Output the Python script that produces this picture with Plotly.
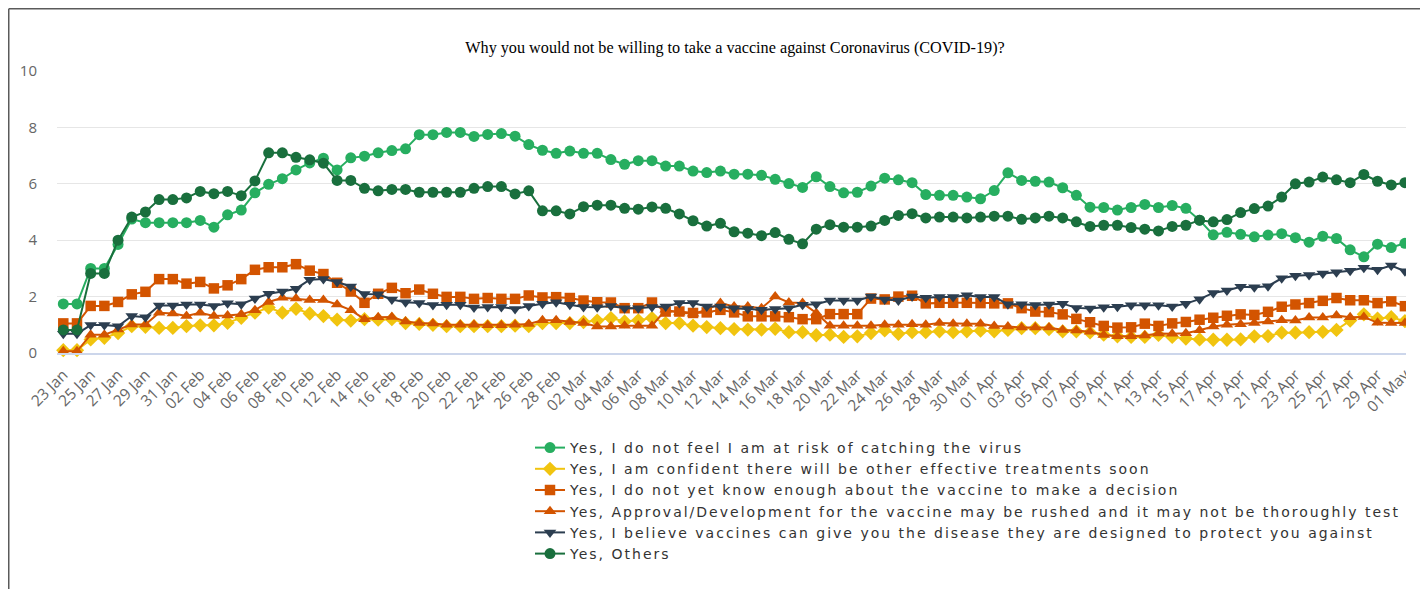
import pandas as pd
import plotly.graph_objects as go

# ---------------- data (daily, 23 Jan 2021 -> 01 May 2021) ----------------
start_date = "2021-01-23"
n_days = 99
dates = pd.date_range(start_date, periods=n_days, freq="D")

not_at_risk = [1.74,1.74,3.0,3.0,3.85,4.75,4.62,4.62,4.62,4.62,
4.7,4.46,4.9,5.07,5.68,5.98,6.18,6.49,6.74,6.91,
6.49,6.92,6.98,7.1,7.18,7.24,7.74,7.74,7.82,7.82,
7.68,7.75,7.78,7.69,7.39,7.19,7.08,7.16,7.08,7.08,
6.86,6.69,6.82,6.82,6.63,6.63,6.45,6.4,6.45,6.34,
6.34,6.3,6.16,6.01,5.87,6.25,5.9,5.68,5.7,5.92,
6.2,6.14,6.04,5.62,5.59,5.59,5.53,5.47,5.76,6.39,
6.12,6.09,6.06,5.86,5.59,5.17,5.16,5.07,5.16,5.27,
5.16,5.23,5.13,4.71,4.19,4.28,4.21,4.12,4.18,4.23,
4.09,3.93,4.14,4.06,3.66,3.41,3.86,3.74,3.89]

confident_treatments = [0.1,0.1,0.48,0.54,0.71,0.95,0.93,0.89,0.89,0.95,
0.98,0.98,1.07,1.25,1.43,1.61,1.43,1.57,1.4,1.31,
1.18,1.15,1.2,1.18,1.2,1.06,1.03,1.0,0.95,0.95,
0.95,0.95,0.95,0.97,0.95,1.06,1.06,1.06,1.1,1.15,
1.24,1.12,1.16,1.24,1.06,1.06,0.97,0.92,0.88,0.85,
0.83,0.83,0.86,0.74,0.74,0.63,0.65,0.57,0.59,0.71,
0.8,0.68,0.74,0.74,0.77,0.74,0.77,0.79,0.77,0.82,
0.88,0.88,0.85,0.77,0.77,0.73,0.65,0.59,0.57,0.57,
0.64,0.57,0.51,0.48,0.47,0.47,0.48,0.59,0.6,0.72,
0.72,0.74,0.75,0.82,1.15,1.37,1.22,1.27,1.13]

not_know_enough = [1.05,1.05,1.67,1.67,1.81,2.08,2.17,2.62,2.62,2.46,
2.52,2.29,2.4,2.62,2.95,3.04,3.04,3.15,2.92,2.8,
2.49,2.18,1.78,2.1,2.31,2.12,2.25,2.1,1.99,1.99,
1.92,1.95,1.92,1.92,2.04,1.97,1.98,1.95,1.86,1.8,
1.79,1.59,1.59,1.79,1.47,1.47,1.42,1.44,1.53,1.44,
1.3,1.3,1.3,1.27,1.2,1.2,1.38,1.38,1.38,1.93,
1.9,2.0,2.03,1.76,1.78,1.78,1.78,1.77,1.76,1.76,
1.59,1.47,1.45,1.37,1.21,1.09,0.96,0.9,0.91,1.04,
0.96,1.05,1.1,1.18,1.25,1.32,1.37,1.35,1.46,1.64,
1.72,1.77,1.85,1.95,1.87,1.87,1.77,1.83,1.66]

rushed = [0.06,0.06,0.65,0.65,0.83,1.01,1.01,1.43,1.4,1.31,
1.43,1.31,1.33,1.37,1.52,1.81,1.96,1.93,1.88,1.88,
1.72,1.52,1.2,1.27,1.28,1.12,1.06,1.05,1.0,1.0,
1.0,0.98,0.98,1.0,1.03,1.16,1.16,1.1,1.06,0.94,
0.94,0.97,0.97,0.97,1.53,1.44,1.39,1.53,1.77,1.65,
1.65,1.59,2.0,1.79,1.77,1.42,0.97,0.97,0.97,0.97,
1.0,1.0,1.02,1.0,1.06,1.04,1.04,1.04,0.96,0.94,
0.9,0.9,0.9,0.82,0.8,0.75,0.64,0.59,0.59,0.62,
0.69,0.68,0.7,0.81,0.94,1.0,1.02,1.06,1.12,1.16,
1.15,1.26,1.26,1.33,1.27,1.28,1.07,1.06,1.06]

give_disease = [0.68,0.68,0.99,0.99,0.95,1.31,1.27,1.68,1.68,1.72,
1.72,1.67,1.76,1.73,1.93,2.1,2.18,2.28,2.6,2.62,
2.52,2.36,2.09,2.08,1.9,1.8,1.77,1.7,1.71,1.71,
1.61,1.63,1.63,1.56,1.67,1.75,1.8,1.71,1.63,1.62,
1.67,1.59,1.59,1.63,1.65,1.77,1.77,1.65,1.65,1.59,
1.56,1.53,1.56,1.59,1.71,1.73,1.86,1.86,1.86,2.0,
1.9,1.86,2.0,1.96,1.99,1.99,2.05,1.99,1.99,1.73,
1.73,1.7,1.72,1.75,1.6,1.58,1.62,1.64,1.69,1.69,
1.69,1.65,1.75,1.91,2.13,2.22,2.35,2.33,2.37,2.65,
2.74,2.77,2.82,2.86,2.92,3.02,2.95,3.1,2.9]

others = [0.82,0.82,2.82,2.82,4.0,4.82,5.0,5.44,5.44,5.5,
5.73,5.65,5.73,5.58,6.1,7.1,7.1,6.94,6.85,6.73,
6.12,6.12,5.84,5.75,5.8,5.8,5.7,5.7,5.7,5.7,
5.84,5.9,5.9,5.64,5.75,5.04,5.04,4.93,5.19,5.24,
5.24,5.13,5.1,5.18,5.13,4.93,4.69,4.5,4.6,4.3,
4.25,4.16,4.27,4.03,3.87,4.39,4.55,4.46,4.46,4.5,
4.7,4.88,4.94,4.79,4.82,4.82,4.79,4.82,4.85,4.85,
4.74,4.79,4.85,4.79,4.65,4.49,4.53,4.53,4.45,4.39,
4.33,4.49,4.53,4.71,4.65,4.73,4.98,5.12,5.21,5.53,
6.0,6.06,6.24,6.14,6.04,6.33,6.09,5.96,6.04]

series_names = [
    "Yes, I do not feel I am at risk of catching the virus",
    "Yes, I am confident there will be other effective treatments soon",
    "Yes, I do not yet know enough about the vaccine to make a decision",
    "Yes, Approval/Development for the vaccine may be rushed and it may not be thoroughly test",
    "Yes, I believe vaccines can give you the disease they are designed to protect you against",
    "Yes, Others",
]
series_values = [not_at_risk, confident_treatments, not_know_enough, rushed, give_disease, others]
series_colors = ["#27ae60", "#f1c40f", "#d35400", "#d35400", "#2c3e50", "#196f3d"]
series_symbols = ["circle", "diamond", "square", "triangle-up", "triangle-down", "circle"]
series_sizes = [11, 11, 10.5, 11, 11, 11]

title_text = "Why you would not be willing to take a vaccine against Coronavirus (COVID-19)?"

# ---------------- layout geometry ----------------
# The page body has an 8px margin, so the figure starts at page (8, 8).
OFF = 8
W, H = 1428 - OFF, 589 - OFF
L, R, T = 57 - OFF, 0, 71 - OFF
plot_bottom_page = 353.3
B = round(H - (plot_bottom_page - OFF))
plot_w = W - L - R
plot_h = H - T - B
day_px = 13.69
first_px_page = 63.3

def px_to_paper_x(page_px):
    return (page_px - OFF - L) / plot_w

def px_to_paper_y(page_py):
    return (H - B - (page_py - OFF)) / plot_h

x0 = pd.Timestamp(start_date) - pd.Timedelta(days=(first_px_page - OFF - L) / day_px)
x1 = pd.Timestamp(start_date) + pd.Timedelta(days=(W - R - (first_px_page - OFF)) / day_px)

legend_style = "letter-spacing:2px"

fig = go.Figure()
for name, vals, col, sym, sz in zip(series_names, series_values, series_colors, series_symbols, series_sizes):
    fig.add_trace(go.Scatter(
        x=dates, y=vals, name=f'<span style="{legend_style}">{name}</span>',
        mode="lines+markers",
        line=dict(color=col, width=2),
        marker=dict(symbol=sym, size=sz, color=col),
        cliponaxis=False,
    ))

fig.update_layout(
    width=W, height=H,
    margin=dict(l=L, r=R, t=T, b=B, pad=0),
    paper_bgcolor="white", plot_bgcolor="white",
    title=dict(text=title_text, x=(735 - OFF) / W, xref="container", xanchor="center",
               y=1 - (47 - OFF) / H, yref="container", yanchor="middle",
               font=dict(family="Liberation Serif", size=16.2, color="#000000")),
    showlegend=True,
    legend=dict(x=px_to_paper_x(530), y=px_to_paper_y(432), xanchor="left", yanchor="top",
                font=dict(family="DejaVu Sans", size=14, color="#333333"),
                bgcolor="rgba(0,0,0,0)", tracegroupgap=0),
    xaxis=dict(type="date", range=[x0, x1], tick0=start_date, dtick=2 * 86400000,
               tickformat="%d %b", tickangle=-45, showgrid=False,
               showline=True, linecolor="#ccd6eb", linewidth=1.5,
               ticks="", ticklabelstandoff=5,
               tickfont=dict(family="Open Sans", size=15.5, color="#666666")),
    yaxis=dict(range=[0, 10], dtick=2, showgrid=True, gridcolor="#e6e6e6", gridwidth=1,
               zeroline=False, showline=False, ticks="", ticklabelstandoff=19,
               tickfont=dict(family="Open Sans", size=15, color="#666666")),
    shapes=[
        dict(type="rect", xref="paper", yref="paper", layer="above",
             x0=px_to_paper_x(1406), x1=px_to_paper_x(1440),
             y0=px_to_paper_y(600), y1=px_to_paper_y(9.5),
             fillcolor="white", line=dict(width=0)),
        dict(type="line", xref="paper", yref="paper", layer="above",
             x0=px_to_paper_x(OFF + 0.75), x1=px_to_paper_x(1440),
             y0=px_to_paper_y(OFF + 0.75), y1=px_to_paper_y(OFF + 0.75),
             line=dict(color="#5a5a5a", width=1.5)),
        dict(type="line", xref="paper", yref="paper", layer="above",
             x0=px_to_paper_x(OFF + 0.75), x1=px_to_paper_x(OFF + 0.75),
             y0=px_to_paper_y(OFF + 0.75), y1=px_to_paper_y(600),
             line=dict(color="#5a5a5a", width=1.5)),
    ],
)

fig.write_html("out.html")
